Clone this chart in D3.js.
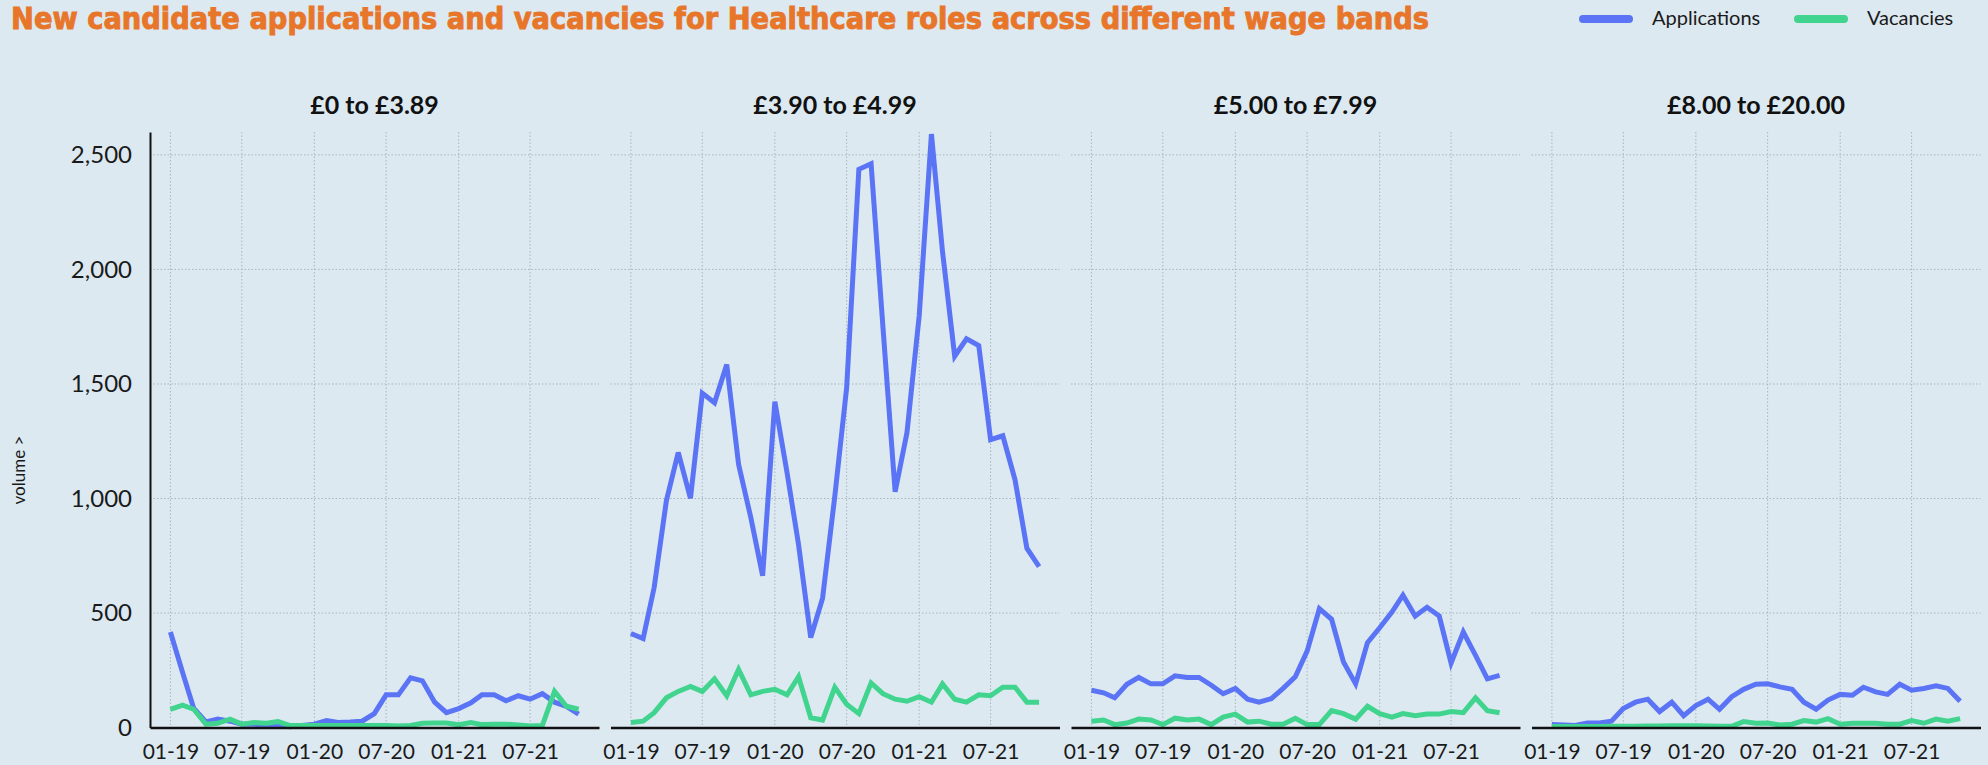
<!DOCTYPE html>
<html>
<head>
<meta charset="utf-8">
<script src="https://cdn.jsdelivr.net/npm/d3@7"></script>
<style>
    body { margin: 0; background: #dce9f1; }
    svg { display: block; }
</style>
</head>
<body>
<svg width="1988" height="765"></svg>
<script>
// wage bands (one small multiple each)
let bands = ["£0 to £3.89", "£3.90 to £4.99", "£5.00 to £7.99", "£8.00 to £20.00"];

// monthly values, Jan 2019 .. Nov 2021
let appsBand1 = [417, 240, 85, 25, 37, 28, 15, 15, 9, 9, 4, 9, 15, 31, 22, 24, 28, 61, 143, 143, 217, 204, 111, 65, 83, 108, 143, 143, 117, 139, 124, 148, 111, 93, 59];
let vacBand1 = [80, 98, 80, 15, 19, 37, 15, 22, 19, 26, 9, 9, 9, 9, 9, 9, 9, 9, 9, 7, 9, 19, 20, 20, 13, 22, 13, 15, 15, 11, 7, 9, 158, 93, 80];
let appsBand2 = [411, 389, 612, 991, 1201, 1001, 1460, 1418, 1585, 1149, 917, 663, 1423, 1112, 800, 393, 565, 1010, 1483, 2437, 2461, 1750, 1029, 1288, 1798, 2591, 2080, 1621, 1697, 1668, 1257, 1274, 1082, 783, 703];
let vacBand2 = [22, 28, 65, 130, 158, 180, 158, 213, 139, 254, 143, 158, 167, 143, 222, 43, 33, 176, 102, 61, 195, 148, 124, 115, 135, 111, 191, 124, 111, 143, 139, 176, 176, 111, 111];
let appsBand3 = [163, 152, 130, 189, 219, 191, 191, 226, 219, 219, 185, 148, 171, 124, 111, 126, 171, 222, 334, 519, 473, 287, 191, 371, 436, 504, 578, 487, 525, 487, 282, 417, 315, 213, 228];
let vacBand3 = [28, 33, 13, 20, 37, 33, 13, 41, 33, 37, 13, 46, 59, 24, 28, 15, 15, 41, 13, 13, 74, 61, 37, 93, 61, 46, 61, 52, 59, 59, 70, 65, 130, 74, 65];
let appsBand4 = [13, 11, 9, 20, 20, 28, 83, 111, 124, 70, 111, 52, 96, 124, 80, 135, 167, 189, 191, 178, 167, 111, 80, 120, 145, 141, 176, 156, 145, 189, 163, 171, 182, 171, 115];
let vacBand4 = [5, 5, 5, 5, 5, 6, 6, 6, 7, 7, 8, 8, 8, 7, 6, 6, 26, 19, 20, 11, 15, 31, 24, 39, 15, 19, 19, 19, 15, 15, 31, 19, 37, 28, 39];

let xTickLabels = ["01-19", "07-19", "01-20", "07-20", "01-21", "07-21"];
let yTicks = [0, 500, 1000, 1500, 2000, 2500];

let applications = [appsBand1, appsBand2, appsBand3, appsBand4];
let vacancies = [vacBand1, vacBand2, vacBand3, vacBand4];

let blue = "#5b74f6",
    green = "#40d48e",
    font = "Lato, 'Noto Sans', sans-serif";

let svg = d3.select("svg"),
    margin = {top: 132, left: 150},
    plotH = 727.6 - margin.top,
    panelW = 449,
    panelStep = 460.5;

let months = d3.timeMonth.range(new Date(2019, 0, 1), new Date(2021, 11, 1));
let span = months[months.length - 1] - months[0];
let pad = span * 0.05;

let x = d3.scaleTime()
    .domain([new Date(+months[0] - pad), new Date(+months[months.length - 1] + pad)])
    .range([0, panelW]);
let y = d3.scaleLinear().domain([0, 2600]).range([plotH, 0]);

let parseTick = d3.timeParse("%m-%y");
let tickDates = xTickLabels.map(parseTick);

let line = d3.line()
    .x((d, i) => x(months[i]))
    .y(d => y(d));

// title
svg.append("text")
    .attr("x", 11)
    .attr("y", 29)
    .attr("textLength", 1418)
    .attr("lengthAdjust", "spacingAndGlyphs")
    .style("font-family", "'Liberation Sans Narrow', 'DejaVu Sans Condensed', sans-serif")
    .style("font-weight", "bold")
    .style("font-size", "30px")
    .style("fill", "#e8762a")
    .style("stroke", "#e8762a")
    .style("stroke-width", 0.9)
    .text("New candidate applications and vacancies for Healthcare roles across different wage bands");

// legend
let legend = svg.append("g");
[["Applications", blue, 1583], ["Vacancies", green, 1798]].forEach(function (l) {
    legend.append("line")
        .attr("x1", l[2]).attr("x2", l[2] + 46)
        .attr("y1", 19).attr("y2", 19)
        .attr("stroke", l[1])
        .attr("stroke-width", 8)
        .attr("stroke-linecap", "round");
    legend.append("text")
        .attr("x", l[2] + 69)
        .attr("y", 25)
        .style("font-family", font)
        .style("font-size", "20px")
        .style("fill", "#1a1a1a")
        .text(l[0]);
});

// y label
svg.append("text")
    .attr("transform", "translate(25,470) rotate(-90)")
    .attr("text-anchor", "middle")
    .style("font-family", font)
    .style("font-size", "17px")
    .style("fill", "#1a1a1a")
    .text("volume >");

bands.forEach(function (band, i) {
    let g = svg.append("g")
        .attr("transform", "translate(" + (margin.left + i * panelStep) + "," + margin.top + ")");

    // grid
    g.selectAll(".hgrid")
        .data(yTicks.filter(d => d > 0))
        .enter().append("line")
        .attr("x1", 0).attr("x2", panelW)
        .attr("y1", d => y(d)).attr("y2", d => y(d))
        .attr("stroke", "#a9b5be")
        .attr("stroke-width", 1)
        .attr("stroke-dasharray", "1.5,2");
    g.selectAll(".vgrid")
        .data(tickDates)
        .enter().append("line")
        .attr("x1", d => x(d)).attr("x2", d => x(d))
        .attr("y1", 0).attr("y2", plotH)
        .attr("stroke", "#a9b5be")
        .attr("stroke-width", 1)
        .attr("stroke-dasharray", "1.5,2");

    g.append("path")
        .datum(applications[i])
        .attr("d", line)
        .attr("fill", "none")
        .attr("stroke", blue)
        .attr("stroke-width", 5);
    g.append("path")
        .datum(vacancies[i])
        .attr("d", line)
        .attr("fill", "none")
        .attr("stroke", green)
        .attr("stroke-width", 5);

    let xAxis = g.append("g")
        .attr("transform", "translate(0," + plotH + ")")
        .call(d3.axisBottom(x).tickValues(tickDates).tickFormat(d3.timeFormat("%m-%y")).tickSize(0).tickPadding(16));
    xAxis.select(".domain").attr("stroke", "#111").attr("stroke-width", 2.5);
    xAxis.selectAll("text")
        .style("font-family", font)
        .style("font-size", "21px")
        .style("fill", "#1a1a1a");

    if (i === 0) {
        let yAxis = g.append("g")
            .call(d3.axisLeft(y).tickValues(yTicks).tickFormat(d3.format(",")).tickSize(0).tickPadding(18));
        yAxis.select(".domain").attr("stroke", "#111").attr("stroke-width", 2);
        yAxis.selectAll("text")
            .style("font-family", font)
            .style("font-size", "24px")
            .style("fill", "#1a1a1a");
    }

    g.append("text")
        .attr("x", panelW / 2)
        .attr("y", -18)
        .attr("text-anchor", "middle")
        .style("font-family", font)
        .style("font-weight", "bold")
        .style("font-size", "25px")
        .style("fill", "#111")
        .text(band);
});
</script>
</body>
</html>
